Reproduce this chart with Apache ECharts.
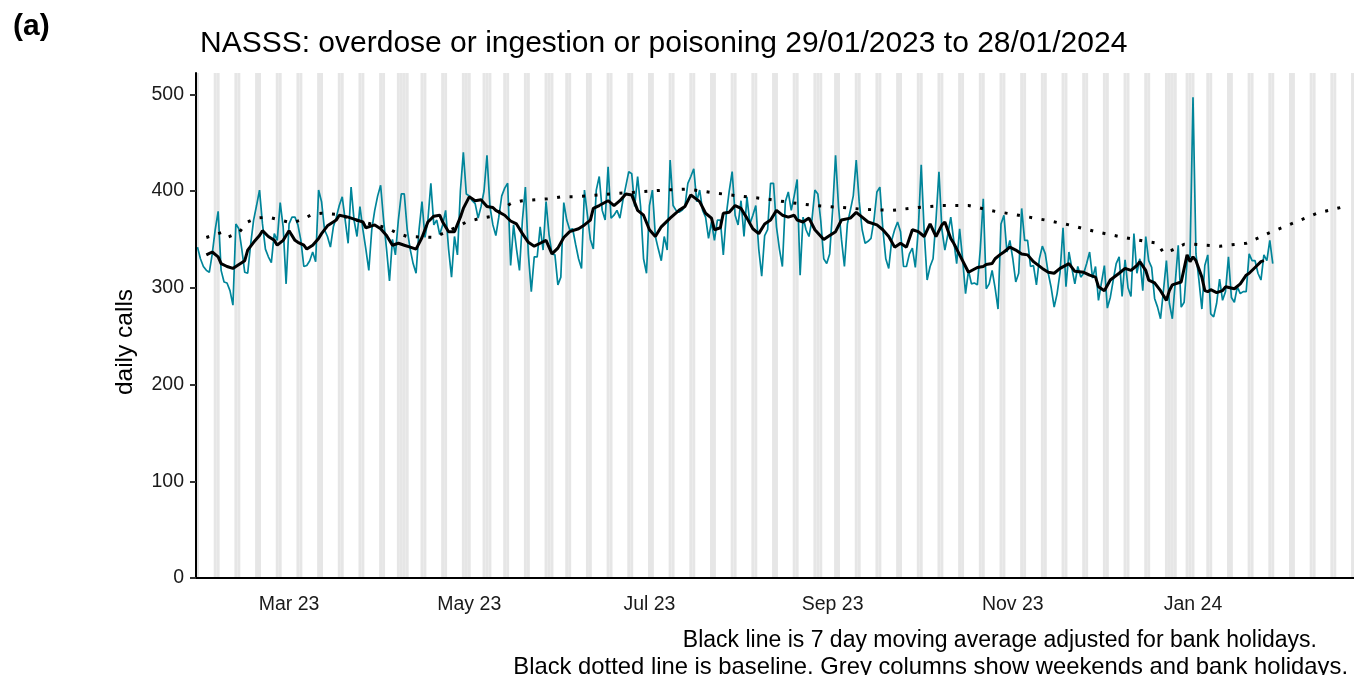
<!DOCTYPE html>
<html>
<head>
<meta charset="utf-8">
<script src="https://cdn.jsdelivr.net/npm/echarts@6/dist/echarts.min.js"></script>
<style>
  html, body { margin: 0; padding: 0; background: #fff; }
  #chart { width: 1354px; height: 675px; }
</style>
</head>
<body>
<div id="chart"></div>
<script>
// x axis runs one day per category, from the first data day to the end of the baseline
const startDate = "2023-01-29";
const axisDays = 392;

const tickDates = ["2023-03-01", "2023-05-01", "2023-07-01", "2023-09-01", "2023-11-01", "2024-01-01"];
const tickLabels = ["Mar 23", "May 23", "Jul 23", "Sep 23", "Nov 23", "Jan 24"];
const yTicks = [0, 100, 200, 300, 400, 500];
const yMax = 522;

const bankHolidays = [
  "2023-04-07", "2023-04-10", "2023-05-01", "2023-05-08", "2023-05-29",
  "2023-08-28", "2023-12-25", "2023-12-26", "2024-01-01",
];

// daily calls, 29/01/2023 .. 28/01/2024 (one value per day)
const dailyCalls = [
  342, 330, 322, 318, 316, 335, 360,
  379, 318, 306, 305, 297, 282, 366,
  361, 340, 316, 315, 345, 370, 385,
  401, 366, 340, 332, 326, 356, 349,
  388, 363, 304, 366, 373, 373, 365,
  349, 322, 323, 328, 337, 327, 401,
  389, 360, 353, 342, 363, 373, 385,
  394, 370, 346, 404, 370, 353, 384,
  360, 340, 318, 360, 380, 395, 406,
  370, 340, 307, 350, 334, 370, 397,
  397, 360, 340, 325, 315, 360, 389,
  352, 370, 408, 365, 370, 355, 365,
  380, 340, 311, 353, 334, 400, 440,
  397, 395, 390, 387, 372, 384, 400,
  437, 384, 365, 354, 373, 395, 403,
  408, 323, 365, 340, 318, 370, 404,
  335, 296, 332, 332, 363, 339, 389,
  355, 335, 334, 303, 311, 388, 370,
  360, 361, 345, 330, 320, 401, 375,
  350, 340, 401, 415, 380, 370, 425,
  372, 375, 380, 372, 390, 405, 420,
  418, 384, 415, 384, 330, 315, 385,
  401, 353, 340, 328, 353, 339, 432,
  385, 380, 378, 380, 384, 408, 415,
  423, 389, 401, 380, 373, 351, 368,
  349, 370, 370, 334, 375, 400, 420,
  375, 365, 390, 353, 394, 366, 375,
  385, 340, 312, 354, 360, 408, 408,
  363, 340, 322, 389, 399, 380, 395,
  412, 313, 373, 360, 353, 370, 401,
  397, 369, 330, 325, 335, 380, 437,
  384, 350, 322, 366, 380, 395, 432,
  389, 360, 346, 348, 351, 370, 399,
  404, 361, 330, 320, 349, 360, 368,
  358, 322, 322, 335, 341, 321, 360,
  427, 358, 308, 322, 330, 370, 420,
  360, 339, 355, 373, 349, 325, 361,
  330, 294, 318, 304, 305, 303, 340,
  392, 299, 304, 318, 300, 278, 366,
  375, 337, 349, 330, 306, 315, 382,
  349, 349, 322, 323, 303, 330, 343,
  335, 315, 300, 280, 294, 316, 362,
  301, 337, 320, 304, 322, 311, 315,
  325, 337, 310, 322, 287, 305, 323,
  279, 290, 308, 325, 332, 291, 329,
  300, 291, 356, 315, 330, 297, 353,
  328, 321, 289, 280, 268, 297, 328,
  284, 268, 306, 344, 280, 285, 328,
  332, 497, 335, 308, 278, 323, 334,
  273, 270, 284, 309, 287, 296, 332,
  290, 285, 301, 294, 296, 296, 335,
  328, 328, 315, 308, 334, 328, 349,
  325,
];

// [days since 29/01/2023, calls]
const movingAvg = [
  [3, 334], [5, 337], [7, 332], [8, 325], [10, 322], [12, 320], [13, 322], [16, 328],
  [17, 339], [19, 347], [21, 354], [22, 359], [24, 353], [26, 349], [27, 344], [29, 349],
  [30, 354], [31, 359], [33, 349], [34, 347], [36, 344], [37, 340], [39, 344], [41, 351],
  [42, 356], [44, 364], [47, 370], [48, 375], [51, 373], [53, 371], [56, 368], [57, 362],
  [60, 365], [62, 361], [64, 354], [66, 344], [68, 346], [70, 344], [72, 342], [74, 340],
  [76, 352], [78, 368], [80, 374], [82, 375], [83, 368], [85, 358], [87, 358], [89, 373],
  [90, 382], [92, 394], [94, 390], [96, 391], [98, 384], [100, 383], [101, 380], [104, 375],
  [106, 369], [108, 366], [110, 356], [112, 347], [114, 343], [116, 346], [118, 349], [120, 335],
  [122, 341], [124, 352], [126, 358], [129, 361], [131, 365], [133, 370], [134, 382], [136, 385],
  [139, 390], [141, 385], [143, 390], [145, 397], [147, 396], [149, 380], [151, 375], [153, 360],
  [155, 353], [157, 363], [160, 372], [163, 380], [165, 384], [167, 396], [170, 389], [172, 377],
  [174, 372], [175, 360], [177, 362], [178, 377], [180, 378], [182, 385], [184, 382], [186, 372],
  [188, 361], [190, 356], [192, 366], [194, 370], [196, 380], [198, 375], [200, 373], [202, 375],
  [203, 370], [205, 368], [207, 372], [209, 360], [212, 350], [214, 354], [216, 358], [218, 370],
  [221, 372], [223, 378], [225, 373], [227, 368], [230, 365], [232, 360], [234, 353], [236, 342],
  [238, 346], [240, 342], [242, 360], [244, 358], [246, 353], [248, 366], [250, 353], [252, 365],
  [253, 368], [255, 351], [256, 346], [258, 334], [260, 322], [261, 316], [264, 321], [266, 322],
  [267, 324], [269, 325], [270, 330], [272, 335], [273, 337], [275, 342], [277, 339], [279, 335],
  [281, 334], [283, 327], [286, 320], [288, 316], [290, 315], [292, 320], [295, 325], [297, 317],
  [300, 316], [302, 313], [304, 311], [305, 301], [307, 297], [309, 308], [312, 315], [314, 320],
  [316, 318], [318, 323], [319, 327], [321, 318], [322, 308], [324, 305], [326, 297], [328, 287],
  [329, 297], [330, 303], [331, 304], [333, 306], [335, 334], [336, 327], [337, 332], [338, 328],
  [340, 311], [341, 297], [342, 296], [343, 298], [345, 295], [347, 297], [348, 301], [351, 299],
  [353, 304], [355, 313], [356, 315], [358, 321], [360, 327], [361, 328],
];

// [days since 29/01/2023, calls]
const baseline = [
  [3, 352], [8, 357], [10, 352], [14, 357], [17, 368], [20, 372], [24, 373], [28, 370],
  [32, 367], [35, 370], [39, 376], [42, 377], [47, 376], [56, 368], [64, 362], [68, 356],
  [71, 353], [80, 352], [88, 363], [91, 368], [96, 372], [100, 374], [106, 387], [110, 390],
  [115, 391], [119, 392], [123, 394], [127, 394], [132, 395], [140, 397], [149, 399], [158, 401],
  [166, 402], [175, 398], [183, 395], [192, 392], [201, 388], [209, 385], [218, 383], [226, 381],
  [235, 380], [244, 383], [252, 385], [261, 385], [270, 379], [278, 375], [287, 370], [295, 365],
  [304, 358], [312, 353], [321, 348], [325, 346], [327, 336], [330, 339], [334, 345], [337, 345],
  [346, 343], [355, 346], [363, 357], [371, 367], [379, 377], [387, 383],
];

const FONT = "Liberation Sans, Arial, Helvetica, sans-serif";
const DAY_MS = 86400000;

const days = [];
const t0 = Date.parse(startDate);
for (let i = 0; i < axisDays; i++) {
  days.push(new Date(t0 + i * DAY_MS).toISOString().slice(0, 10));
}

// grey column for every weekend day and bank holiday
const greyDays = days.map((d) => {
  const dow = new Date(d).getUTCDay();
  return dow === 0 || dow === 6 || bankHolidays.includes(d) ? yMax : "-";
});

const isTick = (idx, val) => tickDates.indexOf(val) >= 0;

const chart = echarts.init(document.getElementById("chart"), null, { renderer: "canvas" });
chart.setOption({
  animation: false,
  backgroundColor: "#fff",
  textStyle: { fontFamily: FONT },
  title: [
    {
      text: "(a)",
      left: 8,
      top: 7,
      textStyle: { fontSize: 30, fontWeight: "bold", color: "#000", fontFamily: FONT },
    },
    {
      text: "NASSS: overdose or ingestion or poisoning 29/01/2023 to 28/01/2024",
      left: 195,
      top: 24,
      textStyle: { fontSize: 30, fontWeight: "normal", color: "#000", fontFamily: FONT },
    },
    {
      text: "Black line is 7 day moving average adjusted for bank holidays.",
      right: 32,
      top: 624,
      textStyle: { fontSize: 23, fontWeight: "normal", color: "#000", fontFamily: FONT },
    },
    {
      text: "Black dotted line is baseline. Grey columns show weekends and bank holidays.",
      right: 1,
      top: 650,
      textStyle: { fontSize: 23.8, fontWeight: "normal", color: "#000", fontFamily: FONT },
    },
  ],
  graphic: [
    {
      type: "text",
      x: 125,
      y: 342,
      rotation: Math.PI / 2,
      style: {
        text: "daily calls",
        fill: "#000",
        font: "24.5px " + FONT,
        align: "center",
        verticalAlign: "middle",
      },
    },
  ],
  grid: { left: 196, right: 0, top: 73, bottom: 97, containLabel: false },
  xAxis: {
    type: "category",
    data: days,
    boundaryGap: true,
    z: 10,
    axisLine: { lineStyle: { color: "#000", width: 2 } },
    axisTick: {
      alignWithLabel: true,
      interval: isTick,
      length: 6,
      lineStyle: { color: "#333", width: 2 },
    },
    axisLabel: {
      interval: isTick,
      formatter: (val) => tickLabels[tickDates.indexOf(val)],
      fontSize: 19.5,
      color: "#1a1a1a",
      margin: 17,
      fontFamily: FONT,
    },
    splitLine: { show: false },
  },
  yAxis: {
    type: "value",
    min: 0,
    max: yMax,
    interval: 100,
    z: 10,
    axisLine: { show: true, lineStyle: { color: "#000", width: 2 } },
    axisTick: {
      show: true,
      length: 6,
      customValues: yTicks,
      lineStyle: { color: "#333", width: 2 },
    },
    axisLabel: {
      customValues: yTicks,
      fontSize: 19.5,
      color: "#1a1a1a",
      margin: 12,
      fontFamily: FONT,
    },
    splitLine: { show: false },
  },
  series: [
    {
      name: "weekends and bank holidays",
      type: "bar",
      data: greyDays,
      barWidth: "100%",
      barCategoryGap: "0%",
      silent: true,
      itemStyle: { color: "#e6e6e6" },
      z: 1,
    },
    {
      name: "daily calls",
      type: "line",
      data: dailyCalls,
      symbol: "none",
      lineStyle: { color: "#00859a", width: 1.7 },
      z: 3,
    },
    {
      name: "7 day moving average",
      type: "line",
      data: movingAvg,
      symbol: "none",
      lineStyle: { color: "#000", width: 3 },
      z: 4,
    },
    {
      name: "baseline",
      type: "line",
      data: baseline,
      symbol: "none",
      lineStyle: { color: "#000", width: 3, type: [3, 9.5] },
      z: 5,
    },
  ],
});
</script>
</body>
</html>
